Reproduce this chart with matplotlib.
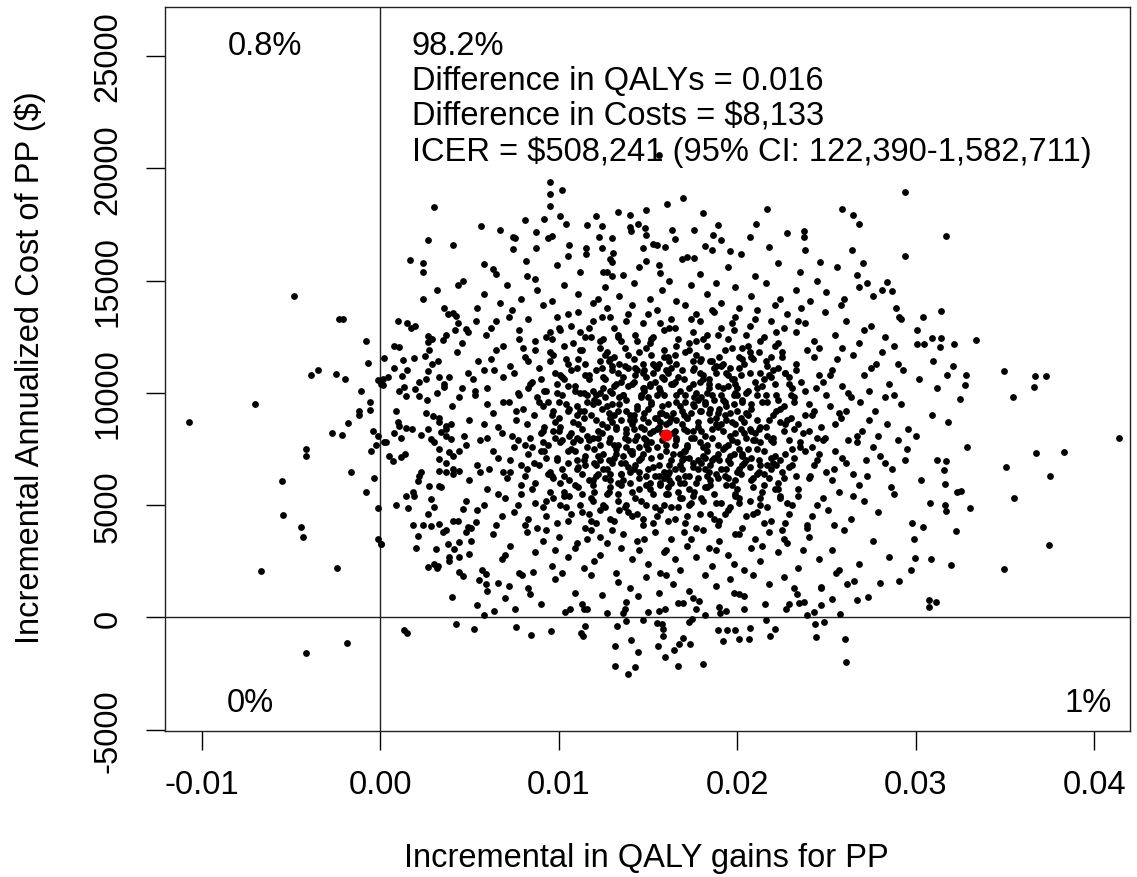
import numpy as np
import matplotlib
matplotlib.use("Agg")
import matplotlib.pyplot as plt

plt.rcParams["font.family"] = ["Liberation Sans", "DejaVu Sans"]

left_edge = """
-10.7 8.72, -7.0 9.5, -4.83 14.33, -2.3 13.3, -2.1 13.3, -3.9 10.8, -3.5 11.0, -2.5 10.83,
-1.97 10.6, -0.77 12.3, -0.71 11.35, -1.05 10.09, -0.58 9.6, -0.58 9.24, -1.18 9.21, -1.18 9.03,
-1.78 8.65, -2.7 8.2, -2.15 8.14, -4.17 7.5, -4.17 7.17, -1.65 6.46, -5.49 6.09, -5.45 4.57,
-4.46 4.05, -4.31 3.6, -6.7 2.07, -2.4 2.22, -0.34 6.2, -0.77 5.57, -0.15 4.87, -0.15 3.48,
0.04 3.26, -1.87 -1.13, -4.16 -1.56, 1.35 -0.54, 1.48 -0.68, -0.43 8.32, -0.15 8.1, -0.24 7.68,
0.32 7.8, -0.52 7.43, 0.13 10.62, 0.04 10.4, -0.15 10.58, 3.6 13.77, 4.06 13.56, 4.25 13.44
"""

top_ring = """
3.03 18.27, 2.66 16.8, 4.06 16.6, 1.67 15.9, 2.38 15.8, 2.38 15.39, 5.62 17.41, 6.72 17.25,
7.43 16.95, 7.53 16.9, 7.43 16.4, 8.13 17.72, 8.74 17.17, 8.74 16.43, 9.49 19.37, 9.49 18.84,
9.49 18.32, 9.16 17.73, 8.18 15.86, 5.84 15.76, 6.5 15.3, 4.34 14.79, 4.62 14.97, 9.4 16.9,
9.65 16.98, 10.2 19.05, 10.06 17.89, 10.43 17.51, 10.58 16.58, 10.54 16.1, 11.56 17.47, 12.08 17.89,
12.4 17.41, 12.27 16.96, 12.96 16.9, 13.3 18.07, 13.99 17.92, 13.99 17.37, 14.08 17.22, 14.42 17.53,
14.92 18.13, 14.83 17.32, 14.92 17.05, 16.05 18.39, 16.95 18.69, 16.33 17.25, 16.52 16.84, 18.07 18.02,
17.58 17.26, 18.95 17.46, 18.67 17.05, 19.08 16.8, 21.67 18.21, 21.07 17.54, 20.73 16.95, 22.79 17.13,
19.6 16.34, 18.2 16.55, 18.58 16.38, 16.89 15.98, 17.21 16.03, 15.96 16.49, 15.26 16.65, 15.49 16.58,
14.74 16.46, 14.87 15.86, 15.64 15.68, 15.67 15.36, 12.87 15.98, 12.96 15.83, 12.68 15.39, 12.45 16.43,
13.06 16.25, 11.52 16.46, 11.52 16.19, 12.49 15.39, 8.65 15.09, 13.61 15.27, 15.6 20.6
"""

left_mid = """
0.97 13.19, 1.72 12.89, 1.97 12.99, 2.66 12.55, 2.66 12.28, 3.5 12.36, 3.69 12.58, 4.34 13.1,
4.81 12.85, 4.9 12.7, 5.37 13.21, 0.79 12.1, 1.07 12.03, 0.22 11.54, 1.29 11.46, 1.91 11.57,
2.53 11.63, 2.75 11.92, 3.22 11.43, 0.79 11.1, 0.41 10.69, 1.22 10.77, 0.13 10.35, 1.07 10.1,
1.44 9.85, 1.35 10.25, 1.97 10.17, 2.16 9.88, 2.66 10.99, 2.57 10.62, 3.31 10.69, 3.6 10.25,
3.88 10.69, 2.57 9.1, 2.94 8.96, 0.97 8.72, 1.07 8.54, 1.44 8.45, 0.79 8.21, 1.16 8.0,
0.22 7.8, 2.29 8.13, 2.66 8.39, 2.85 7.95, 3.31 8.69, 3.69 8.54, 3.97 8.62, 3.41 8.25,
3.69 8.1, 3.97 7.95, 0.51 7.2, 0.69 6.98, 1.16 7.16, 3.31 7.5, 3.31 7.06, 3.88 7.35,
4.06 7.2, 2.19 6.31, 2.1 6.09, 2.75 5.84, 1.44 5.42, 1.81 5.57, 0.88 5.01, 1.53 4.86,
2.85 5.28, 3.03 4.9, 3.31 5.87, 3.31 6.54, 3.69 6.46, 4.06 6.61, 4.44 6.54, 4.62 4.83,
1.81 4.12, 2.38 4.12, 2.85 4.09, 3.31 4.16, 3.5 3.82, 2.1 3.64, 0.07 3.27, 3.78 3.27,
4.16 3.05, 4.44 3.35, 3.88 2.68, 5.0 2.83, 3.13 3.05, 3.22 2.31, 4.34 4.31, 4.9 4.02,
5.37 4.24, 4.81 3.79
"""

right_ring = """
29.38 18.95, 25.88 18.2, 26.5 17.92, 26.84 17.51, 23.73 17.21, 23.73 16.95, 31.72 17.0, 29.38 16.08,
26.44 16.38, 23.82 16.35, 24.62 15.85, 27.06 15.8, 26.69 15.25, 27.29 14.91, 28.37 14.94, 28.69 14.55,
31.4 13.66, 30.43 13.37, 28.88 13.77, 29.06 13.37, 33.37 12.36, 32.15 12.17, 30.94 12.43, 31.4 12.43,
31.37 12.04, 30.09 12.17, 30.47 12.17, 34.93 10.98, 36.69 10.74, 37.3 10.74, 36.65 10.27, 35.43 9.8,
32.12 11.18, 32.81 10.79, 32.75 10.37, 32.49 9.74, 31.78 10.79, 31.22 10.24, 41.42 8.0, 36.74 7.34,
38.3 7.39, 35.06 6.72, 37.55 6.28, 35.49 5.31, 33.05 4.88, 32.53 5.62, 32.3 5.6, 37.49 3.24,
34.96 2.17, 32.0 2.33, 32.25 3.85, 30.75 0.79, 31.12 0.69, 30.75 0.45, 30.43 4.01, 29.91 3.5,
29.96 2.64, 30.84 2.6, 29.72 2.1, 29.06 1.63, 27.98 1.55, 31.63 5.94, 31.63 5.0, 31.69 4.76,
31.6 6.56, 31.69 6.95, 32.9 7.61, 26.07 -0.96, 26.11 -2.0, 24.44 -0.85, 24.34 -0.29, 24.85 -0.18,
25.75 0.14, 24.7 1.34, 25.32 0.81, 26.69 0.76, 27.32 0.92, 26.16 1.47, 26.57 1.63
"""

bottom_rows = """
4.25 -0.27, 5.28 -0.5, 7.62 -0.42, 8.47 -0.8, 9.59 -0.58, 11.27 -0.68, 11.37 -0.83, 11.46 -0.39,
13.15 -1.25, 13.15 -2.17, 13.9 -2.5, 14.27 -2.2, 14.08 -0.98, 14.46 -1.55, 13.24 -0.36, 13.76 -0.16,
14.74 -0.12, 15.49 -0.24, 15.77 -0.27, 15.83 -0.5, 15.86 -0.83, 15.58 -1.25, 15.96 -1.75, 16.46 -1.43,
16.76 -1.2, 16.98 -0.91, 17.36 -1.2, 16.71 -2.14, 18.07 -2.07, 17.32 -0.21, 17.45 -0.06, 18.2 0.09,
18.9 -0.54, 19.42 -0.54, 19.89 -0.57, 19.23 -1.03, 20.13 -0.94, 20.64 -0.95, 20.73 -0.46, 21.63 -0.12,
22.13 -0.49, 21.82 -0.83, 24.7 0.55, 24.7 1.33, 25.56 1.96, 2.66 2.26, 3.16 2.22, 3.84 2.51,
4.44 2.02, 4.62 1.84, 5.41 0.55, 5.79 0.09, 5.52 1.67, 5.9 1.92, 5.94 1.47, 5.97 1.17,
6.59 1.52, 6.97 0.85, 7.53 0.39, 7.96 1.88, 8.56 2.02, 8.41 1.03, 10.38 0.24, 10.66 0.39,
11.4 0.39, 11.56 0.36, 12.68 0.21, 13.71 0.39, 13.8 0.68, 14.46 0.95, 15.02 0.24, 15.64 0.31,
15.96 0.36, 16.71 0.66, 16.95 0.63, 17.55 0.88, 17.88 0.73, 19.0 0.48, 19.04 0.21, 21.57 0.58,
22.75 0.39, 22.88 0.58, 23.35 1.06, 23.44 0.66, 23.73 0.68, 23.91 0.13, 24.29 0.25, 20.13 1.06,
20.36 0.95, 19.83 1.1
"""

band_14_17 = """
7.9 14.2, 8.8 14.6, 9.6 14.1, 10.3 14.8, 11.1 14.4, 11.9 14.0, 12.6 14.7, 13.4 14.3,
14.2 14.9, 15.1 14.2, 15.8 14.6, 16.6 14.1, 17.4 14.8, 18.3 14.4, 19.1 14.0, 19.9 14.7,
20.8 14.3, 21.6 14.9, 22.4 14.2, 23.3 14.6, 24.1 14.1, 25.0 14.5, 5.8 14.4, 6.7 14.0,
26.0 14.2, 27.6 14.3, 13.0 15.2, 14.5 15.6, 17.9 15.3, 19.5 15.6, 21.0 15.2, 22.3 15.8,
23.5 15.4, 20.2 16.2, 21.8 16.5, 17.6 16.0, 11.2 15.4, 9.9 15.7, 8.2 15.2, 7.1 14.8,
6.3 15.5, 3.2 14.6, 2.4 14.2, 12.2 14.2, 16.2 15.0, 18.8 14.9, 24.5 15.0, 25.6 15.6,
26.8 14.7, 28.1 14.6
"""

band_12_14 = """
1.5 13.1, 2.9 12.4, 3.8 13.5, 4.6 12.2, 5.4 13.8, 5.9 12.6, 6.5 13.2, 6.9 12.1,
7.4 13.7, 7.8 12.8, 8.3 13.3, 8.7 12.3, 9.1 13.9, 9.5 12.7, 9.9 13.4, 10.3 12.1,
10.7 13.0, 11.1 13.6, 11.5 12.5, 11.9 13.2, 12.3 12.0, 12.7 13.8, 13.1 12.9, 13.5 12.3,
13.9 13.5, 14.3 12.6, 14.7 13.1, 15.1 12.2, 15.5 13.7, 15.9 12.8, 16.3 13.3, 16.7 12.4,
17.1 13.9, 17.5 12.7, 17.9 13.2, 18.3 12.1, 18.7 13.6, 19.1 12.9, 19.5 12.4, 19.9 13.4,
20.3 12.0, 20.7 13.0, 21.1 13.7, 21.5 12.5, 21.9 13.2, 22.3 12.2, 22.8 13.5, 23.3 12.7,
23.8 13.1, 24.3 12.3, 24.9 13.6, 25.5 12.6, 26.1 13.2, 26.8 12.2, 27.5 13.0, 28.3 12.5,
29.2 13.3, 30.1 12.8, 8.0 12.0, 9.3 12.5, 10.5 13.5, 11.7 12.9, 12.9 13.4, 14.1 13.9,
15.3 12.5, 16.5 12.9, 17.7 13.5, 18.9 12.6, 20.1 13.8, 21.3 12.3, 22.6 12.9, 23.6 13.8,
24.6 12.0, 13.3 12.6, 15.7 13.1, 18.1 12.4, 20.5 12.6, 10.1 12.8, 12.5 12.4, 14.9 12.0,
17.3 12.2, 19.7 13.1, 22.1 13.9, 6.2 12.9, 7.2 13.4, 4.2 12.8, 25.8 13.9, 27.1 12.8,
28.8 12.1
"""

band_10_12 = """
2.9 11.3, 3.6 10.4, 4.3 11.8, 4.9 10.9, 5.5 11.4, 6.0 10.2, 6.5 11.9, 6.9 10.7,
7.3 11.2, 7.7 10.0, 8.1 11.6, 8.5 10.5, 8.9 11.1, 9.3 10.1, 9.7 11.7, 10.1 10.8,
10.5 11.3, 10.9 10.3, 11.3 11.9, 11.7 10.6, 12.1 11.0, 12.5 10.2, 12.9 11.5, 13.3 10.9,
13.7 11.2, 14.1 10.4, 14.5 11.8, 14.9 10.7, 15.3 11.3, 15.7 10.1, 16.1 11.6, 16.5 10.5,
16.9 11.0, 17.3 10.2, 17.7 11.7, 18.1 10.8, 18.5 11.4, 18.9 10.3, 19.3 11.9, 19.7 10.6,
20.1 11.1, 20.5 10.0, 20.9 11.5, 21.3 10.9, 21.7 11.2, 22.1 10.4, 22.5 11.8, 22.9 10.7,
23.3 11.3, 23.8 10.1, 24.3 11.6, 24.8 10.5, 25.3 11.0, 25.9 10.3, 26.5 11.7, 27.1 10.8,
27.8 11.3, 28.5 10.4, 29.3 11.0, 30.2 10.6, 31.0 11.4, 5.2 10.6, 6.2 11.5, 7.5 10.9,
8.3 10.2, 8.7 11.9, 9.5 11.4, 10.3 10.6, 11.1 11.5, 11.9 10.1, 12.7 11.8, 13.5 10.5,
14.3 11.1, 15.1 10.3, 15.9 11.9, 16.7 10.7, 17.5 11.4, 18.3 10.0, 19.1 11.2, 19.9 10.4,
20.7 11.8, 21.5 10.6, 22.3 11.1, 23.1 10.2, 23.9 11.9, 24.6 10.8, 25.6 11.5, 26.2 10.0,
27.4 10.1, 28.1 11.8, 9.0 10.6, 9.9 10.4, 10.7 11.0, 11.5 10.8, 12.3 11.4, 13.1 10.3,
13.9 11.7, 14.7 10.9, 15.5 11.1, 16.3 10.4, 17.1 11.8, 17.9 10.5, 18.7 11.1, 19.5 10.8,
20.3 11.5, 21.1 10.2, 21.9 11.6, 22.7 10.9, 11.2 10.0, 13.0 11.0, 14.8 10.1, 16.6 11.3,
18.4 10.6, 20.0 10.2, 1.5 11.0, 2.2 10.5, 3.2 10.0, 4.6 10.2, 5.8 11.0
"""

band_8_10 = """
0.9 9.2, 1.8 8.4, 2.6 9.7, 3.3 8.9, 4.0 9.4, 4.7 8.1, 5.3 9.9, 5.8 8.6,
6.3 9.1, 6.8 8.2, 7.2 9.6, 7.6 8.8, 8.0 9.3, 8.4 8.0, 8.8 9.8, 9.2 8.5,
9.6 9.0, 10.0 8.3, 10.4 9.5, 10.8 8.7, 11.2 9.2, 11.6 8.1, 12.0 9.7, 12.4 8.6,
12.8 9.1, 13.2 8.4, 13.6 9.9, 14.0 8.8, 14.4 9.3, 14.8 8.0, 15.2 9.6, 15.6 8.5,
16.0 9.0, 16.4 8.2, 16.8 9.4, 17.2 8.9, 17.6 9.8, 18.0 8.3, 18.4 9.1, 18.8 8.6,
19.2 9.7, 19.6 8.1, 20.0 9.2, 20.4 8.7, 20.8 9.5, 21.2 8.4, 21.6 9.9, 22.0 8.0,
22.4 9.3, 22.8 8.8, 23.2 9.6, 23.7 8.2, 24.2 9.0, 24.7 8.5, 25.2 9.4, 25.8 8.9,
26.4 9.8, 27.0 8.3, 27.7 9.2, 28.4 8.6, 29.2 9.5, 30.0 8.1, 30.9 9.0, 31.8 8.7,
3.7 8.4, 4.4 9.8, 5.0 8.8, 6.0 9.5, 6.6 8.5, 7.4 8.1, 7.8 9.9, 8.6 9.0,
9.0 8.2, 9.4 9.6, 9.8 8.7, 10.2 9.9, 10.6 8.1, 11.0 9.4, 11.4 8.9, 11.8 9.0,
12.2 8.3, 12.6 9.8, 13.0 8.7, 13.4 9.5, 13.8 8.2, 14.2 9.0, 14.6 8.5, 15.0 9.8,
15.4 8.9, 15.8 9.4, 16.2 8.7, 16.6 9.9, 17.0 8.4, 17.4 9.1, 17.8 8.7, 18.2 9.6,
18.6 8.0, 19.0 9.3, 19.4 8.8, 19.8 9.9, 20.2 8.4, 20.6 9.0, 21.0 8.2, 21.4 9.6,
21.8 8.8, 22.2 9.2, 22.6 8.3, 23.0 9.9, 23.4 8.6, 24.0 9.5, 24.5 8.0, 25.0 9.9,
25.5 8.6, 26.1 9.2, 26.7 8.1, 27.4 8.8, 28.8 9.9, 29.6 8.4, 8.2 8.6, 9.1 9.4,
10.1 8.5, 11.0 8.0, 11.9 9.5, 12.9 8.0, 13.8 9.2, 14.7 8.9, 15.7 9.1, 16.6 8.0,
17.5 9.5, 18.5 8.8, 19.4 9.4, 20.3 9.7, 21.3 8.5, 22.3 9.7, 23.2 8.4, 24.3 9.2,
16.9 8.6, 15.3 8.3, 13.0 9.5, 11.6 9.6, 18.9 9.1, 20.8 8.3, 14.2 8.4, 17.9 9.2,
22.0 9.0, 12.4 9.3, 10.5 9.2, 9.7 8.3, 19.9 8.6
"""

band_6_8 = """
1.4 7.3, 2.3 6.5, 3.0 7.8, 3.7 6.9, 4.4 7.4, 5.0 6.1, 5.6 7.9, 6.1 6.6,
6.6 7.1, 7.1 6.2, 7.5 7.6, 7.9 6.8, 8.3 7.3, 8.7 6.0, 9.1 7.8, 9.5 6.5,
9.9 7.0, 10.3 6.3, 10.7 7.5, 11.1 6.7, 11.5 7.2, 11.9 6.1, 12.3 7.7, 12.7 6.6,
13.1 7.1, 13.5 6.4, 13.9 7.9, 14.3 6.8, 14.7 7.3, 15.1 6.0, 15.5 7.6, 15.9 6.5,
16.3 7.0, 16.7 6.2, 17.1 7.4, 17.5 6.9, 17.9 7.8, 18.3 6.3, 18.7 7.1, 19.1 6.6,
19.5 7.7, 19.9 6.1, 20.3 7.2, 20.7 6.7, 21.1 7.5, 21.5 6.4, 21.9 7.9, 22.3 6.0,
22.7 7.3, 23.1 6.8, 23.5 7.6, 24.0 6.2, 24.5 7.0, 25.0 6.5, 25.5 7.4, 26.1 6.9,
26.7 7.8, 27.3 6.3, 28.0 7.2, 28.7 6.6, 29.5 7.5, 30.3 6.1, 31.2 7.0, 4.1 6.4,
4.8 7.7, 5.4 6.8, 6.3 7.4, 6.9 6.5, 7.7 7.9, 8.1 6.3, 8.5 7.6, 8.9 6.8,
9.3 7.1, 9.7 6.2, 10.1 7.8, 10.5 6.9, 10.9 7.4, 11.3 6.4, 11.7 7.9, 12.1 6.8,
12.5 7.3, 12.9 6.1, 13.3 7.7, 13.7 6.9, 14.1 7.4, 14.5 6.2, 14.9 7.9, 15.3 6.7,
15.7 7.2, 16.1 6.4, 16.5 7.7, 16.9 6.6, 17.3 7.1, 17.7 6.0, 18.1 7.6, 18.5 6.8,
18.9 7.3, 19.3 6.3, 19.7 7.9, 20.1 6.6, 20.5 7.0, 20.9 6.2, 21.3 7.8, 21.7 6.8,
22.1 7.2, 22.5 6.5, 22.9 7.9, 23.3 6.3, 23.8 7.4, 24.3 6.8, 24.8 7.9, 25.3 6.1,
25.9 7.1, 26.5 6.4, 27.6 7.6, 28.3 6.9, 29.0 7.9, 7.3 7.0, 8.2 6.6, 9.2 7.4,
10.2 6.6, 11.2 7.9, 12.2 6.4, 13.2 7.5, 14.2 6.6, 15.2 7.8, 16.2 6.8, 17.2 7.7,
18.2 6.6, 19.2 7.5, 20.2 6.4, 21.2 7.0, 22.2 6.8, 23.2 7.1, 24.2 7.6, 12.8 7.0,
14.6 7.1, 16.8 7.3, 18.6 7.0, 20.6 7.5, 11.0 7.0, 15.6 6.3, 19.6 6.9, 13.6 6.1,
17.8 6.2, 21.8 6.2, 10.6 6.1
"""

band_4_6 = """
1.9 5.4, 2.7 4.6, 3.4 5.8, 4.1 4.3, 4.8 5.2, 5.4 4.8, 6.0 5.7, 6.5 4.1,
7.0 5.3, 7.5 4.7, 7.9 5.9, 8.3 4.4, 8.7 5.1, 9.1 4.9, 9.5 5.6, 9.9 4.2,
10.3 5.4, 10.7 4.6, 11.1 5.8, 11.5 4.0, 11.9 5.2, 12.3 4.8, 12.7 5.5, 13.1 4.3,
13.5 5.9, 13.9 4.7, 14.3 5.3, 14.7 4.1, 15.1 5.7, 15.5 4.5, 15.9 5.0, 16.3 4.9,
16.7 5.6, 17.1 4.2, 17.5 5.4, 17.9 4.6, 18.3 5.8, 18.7 4.4, 19.1 5.1, 19.5 4.8,
19.9 5.5, 20.3 4.0, 20.7 5.2, 21.1 4.7, 21.5 5.9, 21.9 4.3, 22.4 5.3, 22.9 4.6,
23.4 5.7, 23.9 4.1, 24.5 5.0, 25.1 4.8, 25.7 5.6, 26.4 4.4, 27.1 5.2, 27.9 4.7,
28.8 5.5, 29.8 4.2, 30.8 5.1, 5.1 4.0, 5.8 5.0, 6.8 4.5, 7.7 5.0, 8.5 5.7,
9.3 4.5, 10.1 5.0, 10.9 5.9, 11.7 4.6, 12.5 5.0, 13.3 5.5, 14.1 4.5, 14.9 5.0,
15.7 5.9, 16.5 4.4, 17.3 5.0, 18.1 5.2, 18.9 4.1, 19.7 5.9, 20.5 4.5, 21.3 5.0,
22.1 5.7, 23.1 5.0, 24.2 4.5, 25.4 4.1, 26.8 5.9, 12.1 4.2, 13.7 4.9, 15.3 4.2,
16.9 5.3, 18.5 5.9, 20.1 5.3, 10.5 4.3, 9.7 5.3, 8.1 4.1, 14.5 5.7, 17.7 4.0,
22.7 4.2, 12.9 5.8, 16.1 5.5, 19.3 4.6, 21.7 4.9, 11.3 5.5, 24.8 5.3
"""

band_0_4 = """
2.0 3.1, 3.0 2.4, 3.7 3.9, 4.4 2.7, 5.1 3.4, 5.7 2.1, 6.3 3.7, 6.8 2.6,
7.3 3.2, 7.8 2.0, 8.2 3.8, 8.7 2.9, 9.1 3.4, 9.6 2.3, 10.0 3.6, 10.5 2.7,
10.9 3.1, 11.4 2.2, 11.8 3.9, 12.3 2.8, 12.7 3.3, 13.2 2.0, 13.6 3.7, 14.1 2.6,
14.5 3.0, 15.0 2.4, 15.4 3.8, 15.9 2.9, 16.3 3.5, 16.8 2.1, 17.2 3.2, 17.7 2.7,
18.1 3.9, 18.6 2.3, 19.0 3.4, 19.5 2.8, 19.9 3.7, 20.4 2.1, 20.8 3.1, 21.3 2.5,
21.8 3.8, 22.3 2.9, 22.8 3.3, 23.4 2.2, 24.0 3.6, 24.6 2.6, 25.3 3.0, 26.0 3.9,
26.8 2.4, 27.6 3.4, 28.5 2.7, 10.2 2.0, 11.6 3.5, 13.0 3.9, 14.4 3.4, 15.7 2.0,
17.0 3.8, 18.4 3.1, 19.8 2.4, 21.0 3.5, 22.5 3.9, 12.0 2.5, 16.5 2.6, 9.3 3.9,
23.7 3.0, 7.0 2.8, 25.7 2.1, 4.0 0.9, 6.4 0.3, 7.2 1.4, 9.0 0.6, 9.8 1.7,
10.9 1.1, 11.8 1.9, 12.4 1.0, 13.3 1.6, 14.0 1.3, 14.9 1.8, 15.6 1.1, 16.4 1.5,
17.3 1.2, 18.2 1.9, 18.8 1.4, 19.6 1.7, 20.9 1.9, 21.8 1.5, 22.6 1.8, 23.2 1.3,
17.7 0.4, 13.6 0.2, 16.0 1.9, 20.4 0.4, 11.3 0.6, 8.3 1.3, 19.4 0.3
"""

core_dense = """
9.4 7.7, 9.8 10.9, 10.3 5.6, 10.6 9.3, 11.0 6.6, 11.3 8.4, 11.5 11.3, 11.8 5.3,
12.0 7.5, 12.3 10.0, 12.6 6.2, 12.9 8.9, 13.1 11.6, 13.4 4.8, 13.6 7.2, 13.8 9.7,
14.0 6.0, 14.2 10.5, 14.4 8.1, 14.6 5.2, 14.8 11.0, 15.0 7.5, 15.2 9.5, 15.4 6.3,
15.6 10.2, 15.8 8.2, 16.0 5.5, 16.2 11.4, 16.4 7.3, 16.6 9.6, 16.8 6.0, 17.0 10.6,
17.2 8.3, 17.4 5.1, 17.6 11.1, 17.8 7.0, 18.0 9.8, 18.2 5.8, 18.4 10.4, 18.6 8.4,
18.8 6.4, 19.0 11.6, 19.3 7.6, 19.6 9.1, 19.9 5.4, 20.2 10.8, 20.5 8.0, 20.8 6.1,
21.1 9.9, 21.5 7.4, 21.9 10.7, 22.3 5.7, 22.7 8.6, 9.2 10.1, 9.6 6.3, 10.0 8.9,
10.4 11.5, 10.8 7.8, 11.2 5.0, 11.6 9.9, 12.0 6.9, 12.4 11.1, 12.8 5.6, 13.2 8.5,
13.6 10.7, 14.0 7.4, 14.4 4.6, 14.8 9.1, 15.2 11.7, 15.6 6.8, 16.0 8.6, 16.4 10.4,
16.8 5.3, 17.2 7.6, 17.6 9.4, 18.0 11.5, 18.4 6.5, 18.8 8.9, 19.2 10.2, 19.6 4.9,
20.0 7.8, 20.4 11.3, 20.8 9.3, 21.2 6.5, 21.6 8.5, 22.0 11.0, 22.4 7.0, 22.8 5.1,
23.2 9.8, 23.6 10.5, 24.0 8.3, 14.3 7.9, 15.9 9.9, 17.5 6.7, 13.0 10.0, 16.1 4.3,
18.9 7.7, 11.9 8.0, 9.9 7.1, 10.5 10.3, 11.1 8.6, 11.7 6.1, 12.2 9.6, 12.8 7.8,
13.3 5.2, 13.9 11.1, 14.4 9.4, 15.0 6.6, 15.5 8.4, 16.1 10.9, 16.6 7.9, 17.1 6.3,
17.7 10.0, 18.2 8.1, 18.7 5.5, 19.3 9.0, 19.8 10.6, 20.3 7.3, 20.9 5.8, 21.4 10.3,
22.0 6.9, 22.6 9.4, 13.5 8.8, 14.8 10.2, 16.3 6.0, 17.4 8.0, 18.5 9.3, 15.3 5.5,
16.9 9.2, 12.6 10.6, 19.9 8.2, 11.4 10.0, 21.7 8.1
"""

core_dense_2 = """
8.6 6.9, 8.9 9.6, 9.3 5.2, 9.5 11.8, 9.8 8.0, 10.1 6.0, 10.2 10.7, 10.5 7.4,
10.8 12.2, 11.0 9.0, 11.3 4.7, 11.4 7.0, 11.7 10.8, 11.9 5.9, 12.1 8.8, 12.3 12.3,
12.5 6.6, 12.7 9.4, 12.9 4.4, 13.1 7.7, 13.2 10.4, 13.5 6.4, 13.7 12.0, 13.8 8.4,
14.1 5.6, 14.2 11.5, 14.5 7.0, 14.6 9.8, 14.9 5.9, 15.1 8.2, 15.2 12.4, 15.4 10.5,
15.7 4.8, 15.8 7.9, 16.0 11.0, 16.2 6.5, 16.4 9.1, 16.6 12.1, 16.7 4.9, 17.0 7.1,
17.1 9.9, 17.3 11.9, 17.6 5.6, 17.8 8.5, 17.9 10.9, 18.1 7.2, 18.3 12.6, 18.5 4.6,
18.7 9.7, 18.9 6.2, 19.1 8.6, 19.2 11.3, 19.5 7.0, 19.7 12.0, 19.8 9.5, 20.0 5.7,
20.2 8.9, 20.4 6.9, 20.6 10.1, 20.9 4.6, 21.0 7.9, 21.2 11.8, 21.4 5.6, 21.7 9.6,
21.9 7.1, 22.1 12.1, 22.4 8.7, 22.6 6.2, 22.9 10.4, 23.1 7.5, 23.4 5.4, 9.0 7.4,
9.7 9.2, 10.4 4.9, 10.9 10.1, 11.5 6.8, 12.2 7.2, 12.6 11.7, 13.3 9.2, 13.9 6.7,
14.4 12.3, 14.9 7.7, 15.5 9.9, 15.9 6.2, 16.5 8.3, 17.2 4.5, 17.7 12.3, 18.2 9.5,
18.8 10.9, 19.4 5.9, 20.1 11.6, 20.7 8.4, 21.3 6.8, 21.8 10.8, 22.5 11.6, 23.0 8.9,
12.0 5.6, 14.0 9.0, 16.0 7.4, 18.0 6.9, 20.0 9.9, 22.0 7.8, 13.4 11.3, 15.6 11.3,
17.5 11.0, 19.5 10.3, 11.2 11.9, 10.0 9.6, 11.8 4.3, 14.7 4.4, 19.0 4.3, 21.5 4.2
"""

core_dense_3 = """
9.1 8.3, 9.4 6.4, 9.6 12.4, 9.9 10.0, 10.2 7.9, 10.6 5.4, 10.7 8.2, 11.0 11.1,
11.4 9.2, 11.6 7.6, 11.8 12.5, 12.1 6.3, 12.4 8.2, 12.6 4.9, 12.9 10.1, 13.0 6.9,
13.3 12.5, 13.6 9.9, 13.8 5.0, 14.1 8.6, 14.3 10.8, 14.5 6.5, 14.7 11.3, 15.0 8.7,
15.3 10.9, 15.4 4.9, 15.7 8.7, 15.9 10.6, 16.1 5.8, 16.3 8.9, 16.5 11.7, 16.8 6.8,
17.0 9.0, 17.3 5.7, 17.5 8.3, 17.8 9.7, 18.0 5.3, 18.3 7.4, 18.6 11.4, 18.8 5.1,
19.1 9.9, 19.4 6.6, 19.6 11.1, 19.8 7.3, 20.1 5.1, 20.3 9.6, 20.6 12.1, 20.8 7.1,
21.1 8.8, 21.3 5.3, 21.6 11.4, 21.9 6.6, 22.2 9.9, 22.4 5.4, 22.7 10.9, 22.9 6.7,
23.3 11.0, 23.5 7.8, 23.8 9.0, 24.1 6.3, 24.4 10.2, 24.6 7.3, 8.4 10.4, 8.1 7.7,
7.9 5.5, 8.3 11.4, 7.6 9.2, 7.3 6.5, 7.8 12.4, 24.9 8.0, 25.2 10.8, 25.4 6.6,
25.7 9.1, 25.9 12.0, 26.2 7.9, 26.5 5.4, 26.9 9.6, 27.2 7.0, 27.5 11.1, 6.9 9.6,
6.6 5.5, 6.4 11.0, 6.0 8.0, 5.6 6.5, 5.3 10.1, 27.9 8.1, 28.3 9.8, 28.6 5.8,
29.0 11.3, 29.4 7.0, 12.3 3.6, 13.5 3.1, 14.8 3.5, 16.0 3.0, 17.4 3.5, 18.8 3.0,
20.1 3.7, 21.4 3.2, 11.0 3.3, 9.8 3.0, 22.6 3.5, 23.9 4.0, 8.8 4.0, 13.8 13.2,
15.0 13.5, 16.2 12.9, 17.4 13.3, 18.6 13.7, 19.8 12.8, 21.0 13.3, 22.2 12.7, 12.4 13.4,
11.2 12.7, 23.4 13.2, 10.0 12.9
"""

core_dense_4 = """
12.1 9.9, 12.3 7.0, 12.5 10.7, 12.7 8.5, 12.9 6.4, 13.0 11.2, 13.2 7.3, 13.4 9.8,
13.5 6.9, 13.7 8.0, 13.9 10.3, 14.0 6.5, 14.2 8.8, 14.4 11.0, 14.5 7.6, 14.7 10.2,
14.9 6.3, 15.0 9.3, 15.2 7.1, 15.4 11.2, 15.5 8.9, 15.7 6.0, 15.8 10.7, 16.0 7.7,
16.1 9.5, 16.3 11.1, 16.5 6.6, 16.6 8.8, 16.8 10.1, 17.0 7.4, 17.1 9.6, 17.3 6.3,
17.5 10.4, 17.6 8.0, 17.8 6.6, 18.0 9.2, 18.1 10.6, 18.3 7.7, 18.5 6.1, 18.6 9.9,
18.8 11.2, 19.0 7.0, 19.2 8.3, 19.4 10.9, 19.5 6.2, 19.7 8.7, 19.9 10.0, 20.1 7.5,
20.3 6.8, 20.5 9.1, 20.7 10.9, 20.9 7.9, 21.1 6.4, 12.2 8.0, 13.1 9.0, 14.1 7.3,
15.1 10.4, 16.2 6.1, 17.2 8.9, 18.2 7.1, 19.3 9.6, 20.4 8.2, 12.8 11.4, 13.8 7.6,
14.8 8.4, 15.8 9.1, 16.9 7.0, 17.9 11.4, 18.9 8.5, 20.0 6.5, 21.0 10.5, 13.3 6.0,
14.6 9.9, 15.9 11.6, 17.0 6.0, 18.4 10.2, 19.6 7.2, 20.8 11.6
"""

regions = [left_edge, top_ring, left_mid, right_ring, bottom_rows, band_14_17,
           band_12_14, band_10_12, band_8_10, band_6_8, band_4_6, band_0_4,
           core_dense, core_dense_2, core_dense_3, core_dense_4]

mean_qaly = 0.016
mean_cost = 8133
quadrant_labels = ["0.8%", "0%", "1%"]
summary_lines = ["98.2%",
                 "Difference in QALYs = 0.016",
                 "Difference in Costs = $8,133",
                 "ICER = $508,241 (95% CI: 122,390-1,582,711)"]
x_ticks = [-0.01, 0.0, 0.01, 0.02, 0.03, 0.04]
y_ticks = [-5000, 0, 5000, 10000, 15000, 20000, 25000]


def pairs(text):
    v = np.array(text.replace(",", " ").split(), dtype=float).reshape(-1, 2)
    return v[:, 0] / 1000.0, v[:, 1] * 1000.0


qaly = np.concatenate([pairs(r)[0] for r in regions])
cost = np.concatenate([pairs(r)[1] for r in regions])

fs = 23.5
fig = plt.figure(figsize=(11.37, 8.78), dpi=100)
ax = fig.add_axes([0.1451, 0.1663, 0.8487, 0.8246])

ax.axhline(0, color="#222222", lw=1.0, zorder=1)
ax.axvline(0, color="#222222", lw=1.0, zorder=1)
ax.scatter(qaly, cost, s=24, c="black", linewidths=0, zorder=2)
ax.scatter([mean_qaly], [mean_cost], s=75, c="red", linewidths=0, zorder=3)

ax.set_xlim(-0.01206, 0.04201)
ax.set_ylim(-5053, 27182)
ax.set_xticks(x_ticks)
ax.set_xticklabels([f"{v:.2f}" for v in x_ticks])
ax.set_yticks(y_ticks)
ax.set_yticklabels([str(v) for v in y_ticks], rotation=90, va="center")
ax.tick_params(direction="out", length=13.7, width=1.0, labelsize=fs, colors="black")
ax.tick_params(axis="x", pad=14)
ax.tick_params(axis="y", pad=16)
for sp in ax.spines.values():
    sp.set_linewidth(1.0)
    sp.set_color("#222222")

# quadrant shares and summary text
ax.text(-0.00645, 25089, quadrant_labels[0], ha="center", va="baseline", fontsize=fs)
ax.text(-0.00726, -4163, quadrant_labels[1], ha="center", va="baseline", fontsize=fs)
ax.text(0.03965, -4163, quadrant_labels[2], ha="center", va="baseline", fontsize=fs)
for i, line in enumerate(summary_lines):
    ax.text(0.00177, 25089 - i * 1580, line, ha="left", va="baseline", fontsize=fs)

fig.text(0.5686, 0.0125, "Incremental in QALY gains for PP", ha="center",
         va="baseline", fontsize=fs)
fig.text(0.0268, 0.5814, "Incremental Annualized Cost of PP ($)", ha="center",
         va="center", rotation=90, fontsize=fs)

fig.savefig("out.png", dpi=100)
plt.close(fig)
